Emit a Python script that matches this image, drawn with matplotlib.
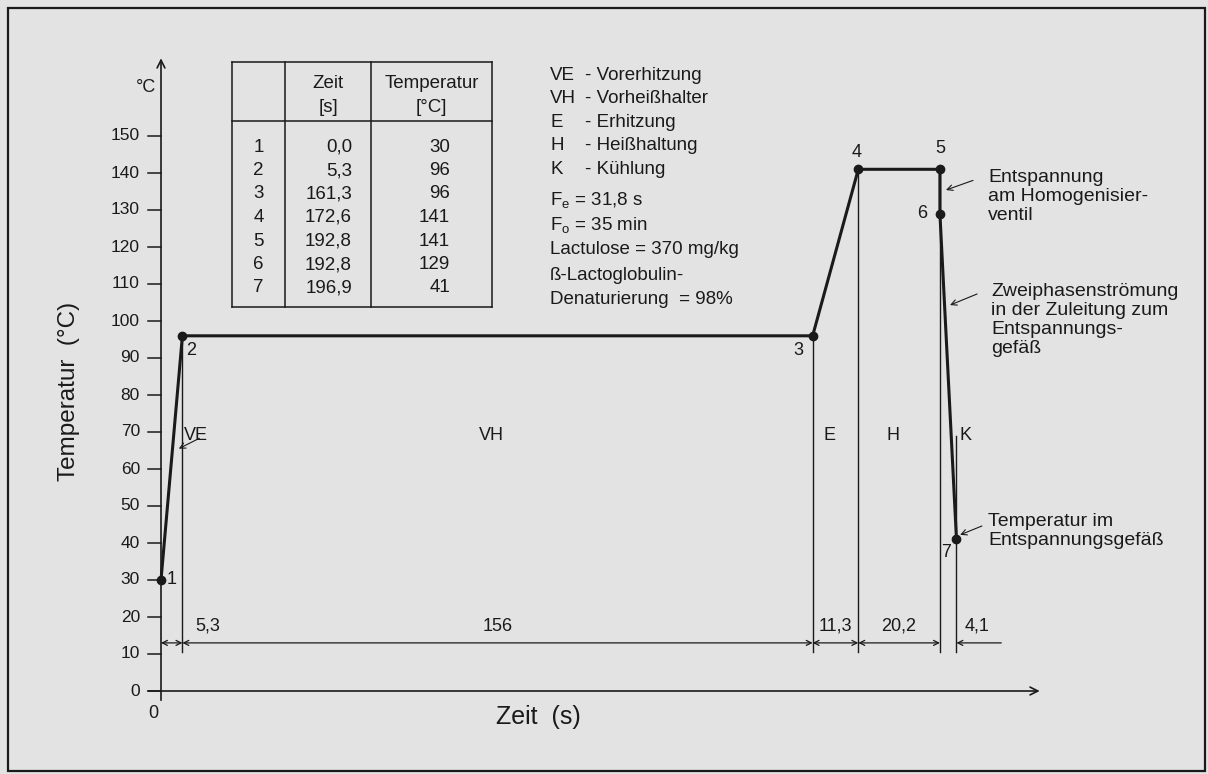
import numpy as np
import matplotlib
matplotlib.use('Agg')
from matplotlib import pyplot as plt
from matplotlib.patches import Rectangle

plt.rcParams['font.family'] = ['Liberation Sans', 'DejaVu Sans']
plt.rcParams['mathtext.default'] = 'regular'

# Data: process points (time in s, temperature in degC)
point_ids = [1, 2, 3, 4, 5, 6, 7]
times = [0.0, 5.3, 161.3, 172.6, 192.8, 192.8, 196.9]
temps = [30, 96, 96, 141, 141, 129, 41]

# phase boundaries (time) and phase names
bounds = [0.0, 5.3, 161.3, 172.6, 192.8, 196.9]
phases = ['VE', 'VH', 'E', 'H', 'K']
phase_names = ['Vorerhitzung', 'Vorheißhalter', 'Erhitzung', 'Heißhaltung', 'Kühlung']
y_ticks = list(range(0, 151, 10))

info_lines = ['$F_e$ = 31,8 s', '$F_o$ = 35 min', 'Lactulose = 370 mg/kg',
              'ß-Lactoglobulin-', 'Denaturierung  = 98%']

ink = '#1a1a1a'
bg = '#e3e3e3'
fs = 13

fig = plt.figure(figsize=(12.08, 7.74), dpi=100, facecolor=bg)

# overlay axes in pixel units for frame, table and legend text
ov = fig.add_axes([0, 0, 1, 1])
ov.set_xlim(0, 1208)
ov.set_ylim(774, 0)
ov.axis('off')
ov.patch.set_alpha(0)

# data axes, laid out so that t=0 is at x=161 px and T=0 at y=691 px
ax = fig.add_axes([0, 0, 1, 1])
ax.set_xlim(-161 / 4.04, (1208 - 161) / 4.04)
ax.set_ylim(-(774 - 691) / 3.7, 691 / 3.7)
ax.axis('off')
ax.patch.set_alpha(0)

# outer frame
ov.add_patch(Rectangle((8, 8), 1197, 763, fill=False, lw=1.6, ec=ink))

# axes with arrows
ax.annotate('', xy=(0, 171), xytext=(0, -2.5),
            arrowprops=dict(arrowstyle='->', lw=1.2, color=ink, shrinkA=0, shrinkB=0,
                            mutation_scale=14))
ax.annotate('', xy=(217.5, 0), xytext=(-3.2, 0),
            arrowprops=dict(arrowstyle='->', lw=1.2, color=ink, shrinkA=0, shrinkB=0,
                            mutation_scale=14))
for v in y_ticks:
    ax.plot([-3.2, 0], [v, v], color=ink, lw=1.1)
    ax.text(-5.2, v, str(v), ha='right', va='center', fontsize=12.5, color=ink)
ax.text(-1.2, 163, '°C', ha='right', va='center', fontsize=fs, color=ink)
ax.text(-1.8, -6, '0', ha='center', va='center', fontsize=fs, color=ink)
ax.text(93.5, -7, 'Zeit  (s)', ha='center', va='center', fontsize=18, color=ink)
ax.text(-22.8, 81, 'Temperatur  (°C)', ha='center', va='center', fontsize=17.5,
        rotation=90, color=ink)

# thin vertical phase lines
ax.plot([5.3, 5.3], [96, 10.5], color=ink, lw=1.0)
ax.plot([161.3, 161.3], [96, 10.5], color=ink, lw=1.0)
ax.plot([172.6, 172.6], [141, 10.5], color=ink, lw=1.0)
ax.plot([192.8, 192.8], [141, 10.5], color=ink, lw=1.0)
ax.plot([196.9, 196.9], [69, 10.5], color=ink, lw=1.0)

# process curve
ax.plot(times, temps, color=ink, lw=2.2, marker='o', ms=6, zorder=5)

# point labels
lbl_pos = [(1.5, 30, 'left'), (6.2, 92, 'left'), (157.7, 92, 'center'),
           (172.3, 145.5, 'center'), (193.0, 146.5, 'center'),
           (188.4, 129, 'center'), (194.3, 37.3, 'center')]
for pid, (lx, ly, ha) in zip(point_ids, lbl_pos):
    ax.text(lx, ly, str(pid), ha=ha, va='center', fontsize=fs, color=ink)

# phase labels
ax.text(5.6, 69, phases[0], ha='left', va='center', fontsize=fs, color=ink)
for i in (1, 2, 3):
    ax.text((bounds[i] + bounds[i + 1]) / 2 - 1.5, 69, phases[i], ha='center', va='center',
            fontsize=fs, color=ink)
ax.text(197.6, 69, phases[4], ha='left', va='center', fontsize=fs, color=ink)
ax.annotate('', xy=(4.4, 65.5), xytext=(9.5, 68.3),
            arrowprops=dict(arrowstyle='->', lw=0.8, color=ink, shrinkA=0, shrinkB=0))

# dimension line with durations
durations = np.diff(bounds)
dim_y = 13
arrow_kw = dict(arrowstyle='<->', lw=0.9, color=ink, shrinkA=0, shrinkB=0, mutation_scale=9)
for i in range(4):
    ax.annotate('', xy=(bounds[i + 1], dim_y), xytext=(bounds[i], dim_y), arrowprops=arrow_kw)
ax.annotate('', xy=(bounds[5], dim_y), xytext=(208, dim_y),
            arrowprops=dict(arrow_kw, arrowstyle='->'))
dur_txt = [f'{d:.1f}'.replace('.', ',').replace(',0', '') for d in durations]
ax.text(8.5, 17.5, dur_txt[0], ha='left', va='center', fontsize=fs, color=ink)
for i in (1, 2, 3):
    ax.text((bounds[i] + bounds[i + 1]) / 2, 17.5, dur_txt[i], ha='center', va='center',
            fontsize=fs, color=ink)
ax.text(198.8, 17.5, dur_txt[4], ha='left', va='center', fontsize=fs, color=ink)

# right-hand annotations
note_kw = dict(fontsize=14, color=ink, ha='left', va='top', linespacing=1.15)
small_arrow = dict(arrowstyle='->', lw=0.8, color=ink, shrinkA=0, shrinkB=0)
ax.text(204.7, 141, 'Entspannung\nam Homogenisier-\nventil', **note_kw)
ax.annotate('', xy=(194.3, 135.4), xytext=(201, 138), arrowprops=small_arrow)
ax.text(205.5, 110.2, 'Zweiphasenströmung\nin der Zuleitung zum\nEntspannungs-\ngefäß',
        **note_kw)
ax.annotate('', xy=(195.3, 104.3), xytext=(202, 107.3), arrowprops=small_arrow)
ax.text(204.7, 48.2, 'Temperatur im\nEntspannungsgefäß', **note_kw)
ax.annotate('', xy=(197.8, 42.2), xytext=(203.2, 44.6), arrowprops=small_arrow)

# table of points
tl, c1, c2, tr = 232, 285, 371, 492
tt, th, tb = 62, 121, 307
for x in (tl, c1, c2, tr):
    ov.plot([x, x], [tt, tb], color=ink, lw=1.1)
for y in (tt, th, tb):
    ov.plot([tl, tr], [y, y], color=ink, lw=1.1)
tfs = 13.5
ov.text((c1 + c2) / 2, 83, 'Zeit', ha='center', va='center', fontsize=tfs, color=ink)
ov.text((c1 + c2) / 2, 107, '[s]', ha='center', va='center', fontsize=tfs, color=ink)
ov.text((c2 + tr) / 2, 83, 'Temperatur', ha='center', va='center', fontsize=tfs, color=ink)
ov.text((c2 + tr) / 2, 107, '[°C]', ha='center', va='center', fontsize=tfs, color=ink)
for i, (pid, t, T) in enumerate(zip(point_ids, times, temps)):
    y = 147 + 23.5 * i
    ov.text((tl + c1) / 2, y, str(pid), ha='center', va='center', fontsize=tfs, color=ink)
    ov.text(352, y, f'{t:.1f}'.replace('.', ','), ha='right', va='center', fontsize=tfs,
            color=ink)
    ov.text(450, y, str(T), ha='right', va='center', fontsize=tfs, color=ink)

# legend / info text
for i, (ab, nm) in enumerate(zip(phases, phase_names)):
    y = 75 + 23.6 * i
    ov.text(550, y, ab, ha='left', va='center', fontsize=13.5, color=ink)
    ov.text(585, y, '- ' + nm, ha='left', va='center', fontsize=13.5, color=ink)
for i, line in enumerate(info_lines):
    ov.text(550, 200 + 25 * i, line, ha='left', va='center', fontsize=13.5, color=ink)

fig.savefig('out.png', dpi=100, facecolor=bg)
